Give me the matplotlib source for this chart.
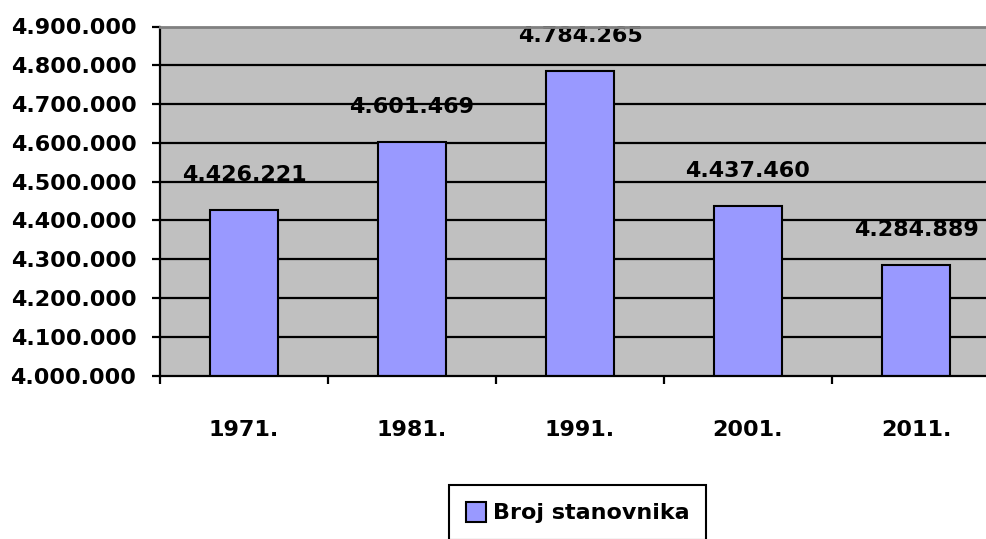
import matplotlib.pyplot as plt
from matplotlib.ticker import FuncFormatter, FixedLocator

years = ['1971.', '1981.', '1991.', '2001.', '2011.']
population = [4426221, 4601469, 4784265, 4437460, 4284889]
series_name = 'Broj stanovnika'

y_min, y_max, y_step = 4000000, 4900000, 100000


def dots(v, pos=None):
    return f'{int(v):,}'.replace(',', '.')


plt.rcParams['font.family'] = ['DejaVu Sans']
plt.rcParams['font.weight'] = 'bold'

fig = plt.figure(figsize=(9.86, 5.39), dpi=100)
# plot area runs past the right edge of the picture, as in the original
ax = fig.add_axes([160 / 986, 1 - 375.5 / 539, 840 / 986, 349 / 539])
ax.set_facecolor('#c0c0c0')

x = list(range(len(years)))
ax.bar(x, population, width=0.4, color='#9999ff', edgecolor='black',
       linewidth=1.5, zorder=2, label=series_name)

# black gridlines, drawn over the data labels but under the bars
for v in range(y_min + y_step, y_max, y_step):
    ax.axhline(v, color='black', linewidth=1.6, zorder=1)

for xi, v in zip(x, population):
    ax.annotate(dots(v), (xi, v), xytext=(0, 21), textcoords='offset points',
                ha='center', va='baseline', fontsize=16, fontweight='bold',
                zorder=0.5)

ax.set_xlim(-0.5, len(years) - 0.5)
ax.set_ylim(y_min, y_max)

ax.yaxis.set_major_locator(FixedLocator(range(y_min, y_max + 1, y_step)))
ax.yaxis.set_major_formatter(FuncFormatter(dots))
ax.tick_params(axis='y', length=6, width=1.6, pad=11, labelsize=16)

# ticks at category boundaries, labels at centres
ax.xaxis.set_major_locator(FixedLocator([i + 0.5 for i in x[:-1]] + [-0.5]))
ax.xaxis.set_major_formatter(FuncFormatter(lambda v, p: ''))
ax.xaxis.set_minor_locator(FixedLocator(x))
ax.set_xticklabels(years, minor=True)
ax.tick_params(axis='x', which='major', length=6, width=1.6)
ax.tick_params(axis='x', which='minor', length=0, pad=32, labelsize=16)

for lab in ax.get_yticklabels() + ax.get_xticklabels(minor=True):
    lab.set_fontweight('bold')

ax.spines['left'].set_linewidth(1.6)
ax.spines['bottom'].set_linewidth(1.6)
ax.spines['top'].set_color('#808080')
ax.spines['top'].set_linewidth(2)
ax.spines['right'].set_visible(False)

leg = fig.legend(loc='upper center', bbox_to_anchor=(577.5 / 986, 1 - 485 / 539),
                 fontsize=16, frameon=True, fancybox=False, framealpha=1,
                 edgecolor='black', borderpad=0.75, handlelength=0.9,
                 handleheight=1.0, handletextpad=0.3, borderaxespad=0)
leg.get_frame().set_linewidth(1.5)
for t in leg.get_texts():
    t.set_fontweight('bold')

fig.savefig('out.png', dpi=100)
